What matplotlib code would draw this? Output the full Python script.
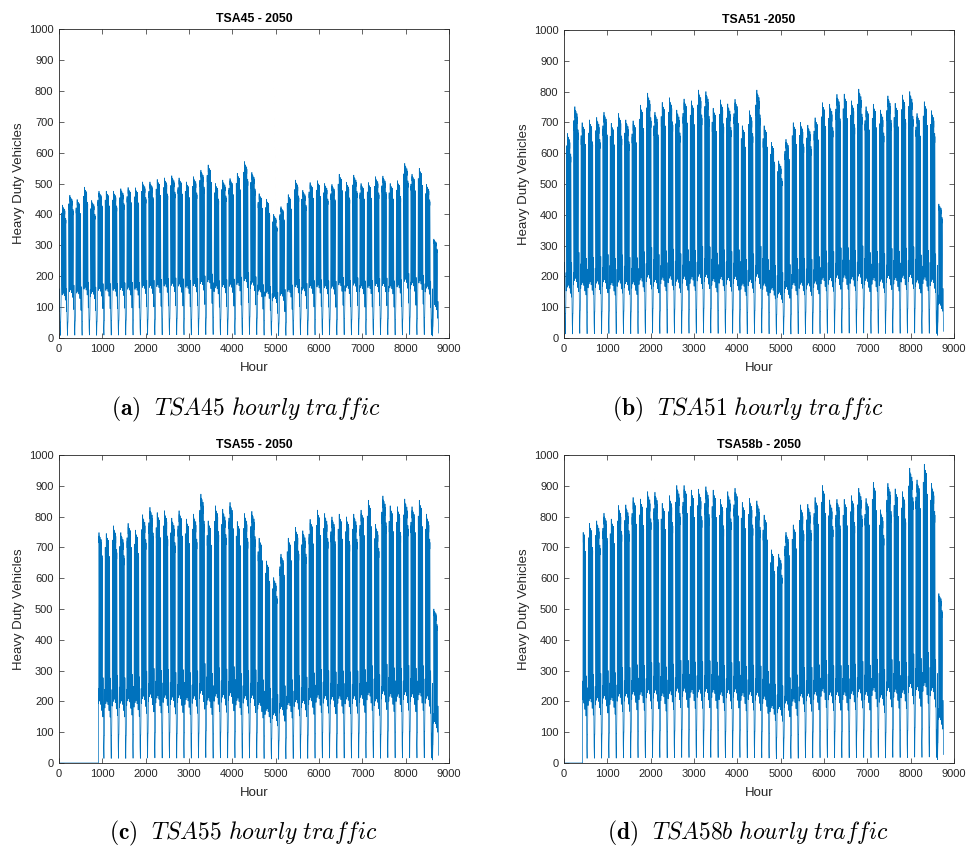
import numpy as np
import matplotlib
matplotlib.use("Agg")
import matplotlib.pyplot as plt

plt.rcParams['font.family'] = ['Liberation Sans', 'DejaVu Sans']
plt.rcParams['mathtext.fontset'] = 'cm'

# ---------------- data ----------------
HOURS = 8760
FIRST_DOW = 5            # 1 Jan 2050 is a Saturday (Mon = 0)
HOLIDAY_DAYS = [359]     # 26 Dec (deep dip in the last week)

titles = ["TSA45 - 2050", "TSA51 -2050", "TSA55 - 2050", "TSA58b - 2050"]
captions = [r"$\mathbf{(a)}\ \ TSA45\ hourly\ traffic$",
            r"$\mathbf{(b)}\ \ TSA51\ hourly\ traffic$",
            r"$\mathbf{(c)}\ \ TSA55\ hourly\ traffic$",
            r"$\mathbf{(d)}\ \ TSA58b\ hourly\ traffic$"]

# weekly weekday peak (weeks 1..52, Monday-start)
peaks_tsa45 = [430, 462, 448, 488, 445, 475, 475, 475, 483, 487,
               486, 505, 505, 513, 518, 525, 518, 505, 522, 543,
               560, 500, 511, 516, 533, 571, 536, 467, 449, 400,
               425, 464, 511, 478, 503, 509, 500, 497, 530, 504,
               527, 500, 503, 522, 524, 500, 509, 565, 530, 549,
               497, 320]
peaks_tsa51 = [664, 751, 699, 708, 716, 733, 697, 729, 708, 705,
               756, 795, 733, 765, 780, 740, 776, 770, 805, 800,
               746, 773, 760, 775, 689, 738, 805, 689, 635, 575,
               645, 699, 700, 691, 715, 764, 759, 791, 792, 770,
               808, 751, 759, 740, 786, 762, 789, 800, 729, 767,
               738, 435]
peaks_tsa55 = [0, 0, 0, 0, 0,
               748, 745, 770, 748, 778, 756, 806, 830, 813, 819,
               795, 819, 792, 808, 873, 786, 835, 824, 846, 784,
               810, 817, 730, 656, 602, 678, 730, 765, 754, 791,
               821, 810, 799, 808, 799, 808, 821, 853, 775, 867,
               835, 832, 857, 832, 853, 808, 500]
peaks_tsa58b = [0, 0,
                764, 778, 786, 811, 792, 836, 838, 862, 857, 881,
                879, 843, 868, 901, 901, 886, 889, 897, 886, 856,
                881, 892, 846, 859, 851, 805, 692, 678, 749, 773,
                838, 840, 862, 901, 854, 856, 856, 868, 892, 859,
                911, 822, 908, 890, 881, 957, 919, 970, 908, 550]

trough_ratio = [0.30, 0.23, 0.24, 0.24]     # weekday night level / peak
start_hour = [0, 0, 910, 430]                # counting starts here

# typical hourly shapes
weekday_shape = [0.02, 0.0, 0.0, 0.03, 0.15, 0.42, 0.72, 0.88, 0.95, 0.98,
                 1.0, 0.97, 0.94, 0.96, 0.98, 0.93, 0.85, 0.72, 0.56, 0.42,
                 0.30, 0.20, 0.12, 0.06]
weekday_factor = [0.94, 1.0, 0.98, 0.97, 0.90]
night_factor = [1.0, 1.08, 1.12, 1.06, 0.95]
saturday_shape = [0.25, 0.22, 0.20, 0.20, 0.22, 0.28, 0.33, 0.36, 0.37, 0.36,
                  0.34, 0.31, 0.28, 0.25, 0.22, 0.19, 0.16, 0.14, 0.12, 0.10,
                  0.08, 0.07, 0.06, 0.05]
sunday_shape = [0.04, 0.03, 0.03, 0.02, 0.02, 0.03, 0.04, 0.06, 0.08, 0.10,
                0.11, 0.12, 0.12, 0.12, 0.12, 0.13, 0.14, 0.16, 0.18, 0.20,
                0.24, 0.28, 0.30, 0.32]


def hourly_series(peaks, ratio, start):
    vals = np.zeros(HOURS)
    for h in range(HOURS):
        day, hod = divmod(h, 24)
        dow = (day + FIRST_DOW) % 7
        week = (day + FIRST_DOW) // 7
        pk = peaks[max(week, 1) - 1]
        if dow == 6 or day in HOLIDAY_DAYS:
            v = pk * sunday_shape[hod]
        elif dow == 5:
            v = pk * saturday_shape[hod]
        else:
            trough = ratio * pk * night_factor[dow]
            top = pk * weekday_factor[dow]
            v = trough + (top - trough) * weekday_shape[hod]
        vals[h] = v
    vals[:start] = 0
    return vals


series = [hourly_series(p, r, s) for p, r, s in
          zip([peaks_tsa45, peaks_tsa51, peaks_tsa55, peaks_tsa58b],
              trough_ratio, start_hour)]
hours = np.arange(1, HOURS + 1)

# ---------------- figure ----------------
fig = plt.figure(figsize=(9.69, 8.48), dpi=100)
W, H = 969, 848
boxes = [(59, 29, 449, 338), (564, 30, 954, 338),
         (59, 455, 449, 763), (564, 455, 954, 763)]
cap_pos = [(246, 409), (748, 409), (243, 833), (748, 833)]
gray = '#262626'

for i in range(4):
    l, t, r, b = boxes[i]
    ax = fig.add_axes([l / W, 1 - b / H, (r - l) / W, (b - t) / H])
    ax.plot(hours, series[i], color='#0072BD', lw=0.5)
    ax.set_xlim(0, 9000)
    ax.set_ylim(0, 1000)
    ax.set_xticks(np.arange(0, 9001, 1000))
    ax.set_yticks(np.arange(0, 1001, 100))
    ax.tick_params(direction='in', length=3.5, width=0.5, colors=gray,
                   labelsize=8, top=True, right=True, pad=4)
    for s in ax.spines.values():
        s.set_color(gray)
        s.set_linewidth(0.6)
    ax.set_title(titles[i], fontsize=8.8, fontweight='bold', pad=5)
    ax.set_xlabel("Hour", fontsize=9.5, color=gray, labelpad=6)
    ax.set_ylabel("Heavy Duty Vehicles", fontsize=9.5, color=gray, labelpad=3)
    cx, cy = cap_pos[i]
    fig.text(cx / W, 1 - cy / H, captions[i], fontsize=17,
             ha='center', va='center')

fig.savefig("out.png", dpi=100)
